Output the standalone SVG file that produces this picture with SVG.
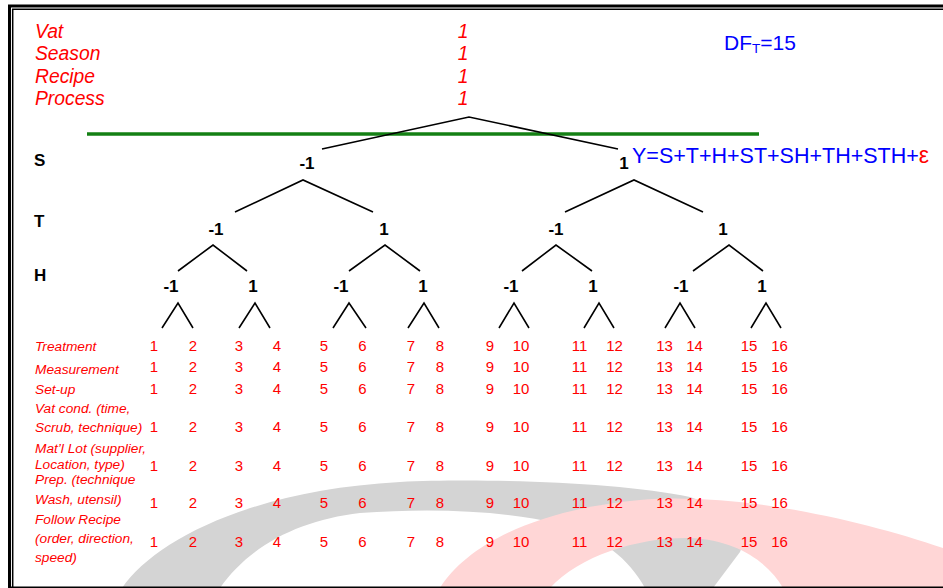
<svg xmlns="http://www.w3.org/2000/svg" width="943" height="588" viewBox="0 0 943 588">
  <style>
    .hdr { font-family: "Liberation Sans", Arial, sans-serif; font-style: italic; font-size: 19.3px; fill: #ff0000; }
    .lvl { font-family: "Liberation Sans", Arial, sans-serif; font-weight: bold; font-size: 17px; fill: #000; }
    .val { font-family: "Liberation Sans", Arial, sans-serif; font-weight: bold; font-size: 17px; fill: #000; text-anchor: middle; }
    .row { font-family: "Liberation Sans", Arial, sans-serif; font-style: italic; font-size: 13.7px; fill: #ff0000; }
    .num { font-family: "Liberation Sans", Arial, sans-serif; font-size: 15px; fill: #ff0000; text-anchor: middle; }
    .blue { font-family: "Liberation Sans", Arial, sans-serif; fill: #0000ff; }
    .edge { stroke: #000; stroke-width: 1.6; fill: none; stroke-linecap: butt; }
  </style>

  <rect width="943" height="588" fill="#fff"/>

  <!-- faint logo swoosh in the background -->
  <g id="watermark">
    <path d="M 122 588 C 155 540 252 490 400 482 C 480 478 620 482 690 497 C 730 510 748 535 740 552 L 713 588 L 645 588 C 630 560 600 535 560 524 C 500 510 430 508 360 513 C 300 520 250 545 220 588 Z" fill="#d4d4d4"/>
    <path d="M 440 588 C 465 548 530 510 640 500 C 740 492 860 520 943 548 L 943 588 L 783 588 C 770 565 740 540 690 538 C 640 537 580 555 550 588 Z" fill="#ffd6d6"/>
  </g>

  <!-- double frame -->
  <g id="frame" fill="none" stroke="#000">
    <path d="M 9.5 588 V 6 H 943" stroke-width="3"/>
    <path d="M 12.7 588 V 9.2 H 943" stroke-width="1.5"/>
    <path d="M 9 587.2 H 943" stroke-width="1.6"/>
  </g>

  <!-- fixed factors -->
  <g id="fixed-factors">
    <text class="hdr" x="35" y="38">Vat</text>
    <text class="hdr" x="35" y="60">Season</text>
    <text class="hdr" x="35" y="83">Recipe</text>
    <text class="hdr" x="35" y="105">Process</text>
    <text class="hdr" x="463" y="38" text-anchor="middle">1</text>
    <text class="hdr" x="463" y="60" text-anchor="middle">1</text>
    <text class="hdr" x="463" y="83" text-anchor="middle">1</text>
    <text class="hdr" x="463" y="105" text-anchor="middle">1</text>
  </g>

  <g id="df-total">
    <text class="blue" x="724" y="50" font-size="21">DF<tspan font-size="13.5" dy="3">T</tspan><tspan dy="-3">=15</tspan></text>
  </g>

  <g id="model">
    <text class="blue" x="632" y="163" font-size="21.5">Y=S+T+H+ST+SH+TH+STH+<tspan fill="#ff0000" font-size="23">ε</tspan></text>
  </g>

  <line id="separator" x1="87" y1="134" x2="759" y2="134" stroke="#148014" stroke-width="3.5"/>

  <!-- factor level row names -->
  <g id="factor-names">
    <text class="lvl" x="34" y="166">S</text>
    <text class="lvl" x="34" y="227">T</text>
    <text class="lvl" x="34" y="281">H</text>
  </g>

  <!-- tree connectors -->
  <g id="connectors" class="edge">
    <polyline points="322,149 469,117 618,149"/>
    <polyline points="235,212 303,180 373,212"/>
    <polyline points="565,212 634,180 703,212"/>
    <polyline points="178,271 213,245 247,271"/>
    <polyline points="349,271 385,245 420,271"/>
    <polyline points="522,271 556,245 592,271"/>
    <polyline points="693,271 729,245 763,271"/>
    <polyline points="162,328 178,303 193,328"/>
    <polyline points="239,328 255,303 270,328"/>
    <polyline points="333,328 349,303 366,328"/>
    <polyline points="408,328 424,303 439,328"/>
    <polyline points="499,328 514,303 529,328"/>
    <polyline points="584,328 599,303 614,328"/>
    <polyline points="665,328 680,303 695,328"/>
    <polyline points="751,328 766,303 781,328"/>
  </g>

  <!-- tree nodes -->
  <g id="node-S-lo"><text class="val" x="307" y="169">-1</text></g>
  <g id="node-S-hi"><text class="val" x="624" y="169">1</text></g>
  <g id="node-T-lo-1"><text class="val" x="216" y="235">-1</text></g>
  <g id="node-T-hi-1"><text class="val" x="384" y="235">1</text></g>
  <g id="node-T-lo-2"><text class="val" x="556" y="235">-1</text></g>
  <g id="node-T-hi-2"><text class="val" x="723" y="235">1</text></g>
  <g id="node-H-1"><text class="val" x="171" y="292">-1</text></g>
  <g id="node-H-2"><text class="val" x="253" y="292">1</text></g>
  <g id="node-H-3"><text class="val" x="341" y="292">-1</text></g>
  <g id="node-H-4"><text class="val" x="423" y="292">1</text></g>
  <g id="node-H-5"><text class="val" x="511" y="292">-1</text></g>
  <g id="node-H-6"><text class="val" x="593" y="292">1</text></g>
  <g id="node-H-7"><text class="val" x="681" y="292">-1</text></g>
  <g id="node-H-8"><text class="val" x="762" y="292">1</text></g>

  <!-- nuisance factors -->
  <g id="nuisance-names">
    <text class="row" x="35" y="351">Treatment</text>
    <text class="row" x="35" y="374">Measurement</text>
    <text class="row" x="35" y="394">Set-up</text>
    <text class="row" x="35" y="413">Vat cond. (time,</text>
    <text class="row" x="35" y="432">Scrub, technique)</text>
    <text class="row" x="35" y="453">Mat’l Lot (supplier,</text>
    <text class="row" x="35" y="469">Location, type)</text>
    <text class="row" x="35" y="484">Prep. (technique</text>
    <text class="row" x="35" y="504">Wash, utensil)</text>
    <text class="row" x="35" y="524">Follow Recipe</text>
    <text class="row" x="35" y="543">(order, direction,</text>
    <text class="row" x="35" y="562">speed)</text>
  </g>

  <!-- run numbers, one column per run -->
  <g id="run-numbers">
    <g id="row-treatment" transform="translate(0,351)">
      <text class="num" x="154">1</text><text class="num" x="193">2</text><text class="num" x="239">3</text><text class="num" x="277">4</text>
      <text class="num" x="324">5</text><text class="num" x="362.5">6</text><text class="num" x="411">7</text><text class="num" x="440">8</text>
      <text class="num" x="490">9</text><text class="num" x="521">10</text><text class="num" x="579.5">11</text><text class="num" x="614.5">12</text>
      <text class="num" x="664.5">13</text><text class="num" x="694.5">14</text><text class="num" x="749">15</text><text class="num" x="779.5">16</text>
    </g>
    <g id="row-measurement" transform="translate(0,372)">
      <text class="num" x="154">1</text><text class="num" x="193">2</text><text class="num" x="239">3</text><text class="num" x="277">4</text>
      <text class="num" x="324">5</text><text class="num" x="362.5">6</text><text class="num" x="411">7</text><text class="num" x="440">8</text>
      <text class="num" x="490">9</text><text class="num" x="521">10</text><text class="num" x="579.5">11</text><text class="num" x="614.5">12</text>
      <text class="num" x="664.5">13</text><text class="num" x="694.5">14</text><text class="num" x="749">15</text><text class="num" x="779.5">16</text>
    </g>
    <g id="row-setup" transform="translate(0,394)">
      <text class="num" x="154">1</text><text class="num" x="193">2</text><text class="num" x="239">3</text><text class="num" x="277">4</text>
      <text class="num" x="324">5</text><text class="num" x="362.5">6</text><text class="num" x="411">7</text><text class="num" x="440">8</text>
      <text class="num" x="490">9</text><text class="num" x="521">10</text><text class="num" x="579.5">11</text><text class="num" x="614.5">12</text>
      <text class="num" x="664.5">13</text><text class="num" x="694.5">14</text><text class="num" x="749">15</text><text class="num" x="779.5">16</text>
    </g>
    <g id="row-vat" transform="translate(0,432)">
      <text class="num" x="154">1</text><text class="num" x="193">2</text><text class="num" x="239">3</text><text class="num" x="277">4</text>
      <text class="num" x="324">5</text><text class="num" x="362.5">6</text><text class="num" x="411">7</text><text class="num" x="440">8</text>
      <text class="num" x="490">9</text><text class="num" x="521">10</text><text class="num" x="579.5">11</text><text class="num" x="614.5">12</text>
      <text class="num" x="664.5">13</text><text class="num" x="694.5">14</text><text class="num" x="749">15</text><text class="num" x="779.5">16</text>
    </g>
    <g id="row-lot" transform="translate(0,471)">
      <text class="num" x="154">1</text><text class="num" x="193">2</text><text class="num" x="239">3</text><text class="num" x="277">4</text>
      <text class="num" x="324">5</text><text class="num" x="362.5">6</text><text class="num" x="411">7</text><text class="num" x="440">8</text>
      <text class="num" x="490">9</text><text class="num" x="521">10</text><text class="num" x="579.5">11</text><text class="num" x="614.5">12</text>
      <text class="num" x="664.5">13</text><text class="num" x="694.5">14</text><text class="num" x="749">15</text><text class="num" x="779.5">16</text>
    </g>
    <g id="row-prep" transform="translate(0,508)">
      <text class="num" x="154">1</text><text class="num" x="193">2</text><text class="num" x="239">3</text><text class="num" x="277">4</text>
      <text class="num" x="324">5</text><text class="num" x="362.5">6</text><text class="num" x="411">7</text><text class="num" x="440">8</text>
      <text class="num" x="490">9</text><text class="num" x="521">10</text><text class="num" x="579.5">11</text><text class="num" x="614.5">12</text>
      <text class="num" x="664.5">13</text><text class="num" x="694.5">14</text><text class="num" x="749">15</text><text class="num" x="779.5">16</text>
    </g>
    <g id="row-recipe" transform="translate(0,547)">
      <text class="num" x="154">1</text><text class="num" x="193">2</text><text class="num" x="239">3</text><text class="num" x="277">4</text>
      <text class="num" x="324">5</text><text class="num" x="362.5">6</text><text class="num" x="411">7</text><text class="num" x="440">8</text>
      <text class="num" x="490">9</text><text class="num" x="521">10</text><text class="num" x="579.5">11</text><text class="num" x="614.5">12</text>
      <text class="num" x="664.5">13</text><text class="num" x="694.5">14</text><text class="num" x="749">15</text><text class="num" x="779.5">16</text>
    </g>
  </g>
</svg>
